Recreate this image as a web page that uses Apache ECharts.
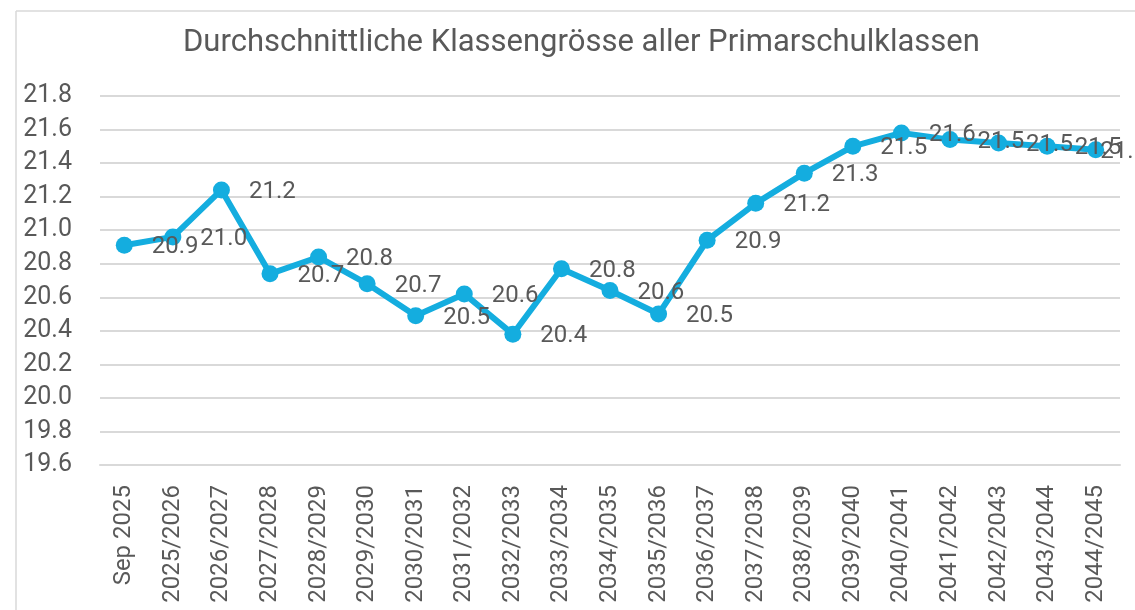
<!DOCTYPE html>
<html>
<head>
<meta charset="utf-8">
<script src="https://cdn.jsdelivr.net/npm/echarts@6/dist/echarts.min.js"></script>
<style>
  html, body { margin: 0; padding: 0; background: #fff; }
  #main { width: 1135px; height: 610px; }
</style>
</head>
<body>
<div id="main"></div>
<script>
const schoolYears = [
  "Sep 2025", "2025/2026", "2026/2027", "2027/2028", "2028/2029", "2029/2030",
  "2030/2031", "2031/2032", "2032/2033", "2033/2034", "2034/2035", "2035/2036",
  "2036/2037", "2037/2038", "2038/2039", "2039/2040", "2040/2041", "2041/2042",
  "2042/2043", "2043/2044", "2044/2045",
];
const classSize = [
  20.91, 20.96, 21.24, 20.74, 20.84, 20.68, 20.49, 20.62, 20.38, 20.77, 20.64,
  20.5, 20.94, 21.16, 21.34, 21.5, 21.58, 21.54, 21.52, 21.5, 21.48,
];
const yMin = 19.6;
const yMax = 21.8;

const textColor = "#595959";
const gridColor = "#d9d9d9";
const lineColor = "#14addf";
const font = "Roboto";

const myChart = echarts.init(document.getElementById("main"));

// last label sits almost on top of its point (pushed in at the right edge)
const seriesData = classSize.map((v, i) =>
  i === classSize.length - 1 ? { value: v, label: { distance: -4 } } : v
);

const option = {
  animation: false,
  title: {
    text: "Durchschnittliche Klassengrösse aller Primarschulklassen",
    left: 178,
    top: 23,
    textStyle: {
      color: textColor,
      fontFamily: font,
      fontWeight: "normal",
      fontSize: 31,
    },
  },
  // chart frame (left + top edges visible in the crop)
  graphic: [
    {
      type: "line",
      shape: { x1: 16, y1: 11, x2: 16, y2: 610 },
      style: { stroke: gridColor, lineWidth: 1.5 },
    },
    {
      type: "line",
      shape: { x1: 16, y1: 11, x2: 1135, y2: 11 },
      style: { stroke: gridColor, lineWidth: 1.5 },
    },
  ],
  grid: {
    left: 100,
    right: 15,
    top: 96,
    bottom: 145,
    containLabel: false,
  },
  xAxis: {
    type: "category",
    data: schoolYears,
    boundaryGap: true,
    axisLine: { show: true, lineStyle: { color: gridColor, width: 2 } },
    axisTick: { show: false },
    axisLabel: {
      rotate: 90,
      margin: 20,
      interval: 0,
      color: textColor,
      fontFamily: font,
      fontSize: 24,
    },
  },
  yAxis: {
    type: "value",
    min: yMin,
    max: yMax,
    interval: 0.2,
    axisLine: { show: false },
    axisTick: { show: false },
    splitLine: { lineStyle: { color: gridColor, width: 2 } },
    axisLabel: {
      margin: 28,
      color: textColor,
      fontFamily: font,
      fontSize: 25,
      formatter: (v) => v.toFixed(1),
    },
  },
  series: [
    {
      type: "line",
      data: seriesData,
      symbol: "circle",
      symbolSize: 17,
      lineStyle: { color: lineColor, width: 6 },
      itemStyle: { color: lineColor },
      label: {
        show: true,
        position: "right",
        distance: 19,
        offset: [0, 2],
        color: textColor,
        fontFamily: font,
        fontSize: 24,
        formatter: (p) => p.value.toFixed(1),
      },
    },
  ],
};

myChart.setOption(option);
</script>
</body>
</html>
